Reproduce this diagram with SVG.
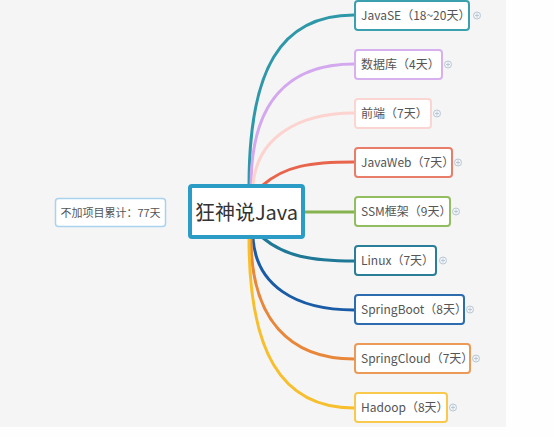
<svg xmlns="http://www.w3.org/2000/svg" width="554" height="437" viewBox="0 0 554 437">
<style>
.t{font-family:"Noto Sans CJK SC","Noto Sans",sans-serif;font-size:12px;fill:#555}
.n{fill:#fff;stroke-width:2}
.c{fill:none;stroke-width:3;stroke-linecap:round}
.p{fill:none;stroke:#b7c7d6;stroke-width:1}
</style>
<defs>
<g id="plus"><circle r="3.5" class="p"/><path d="M-2,0H2M0,-2V2" class="p"/></g>
</defs>
<rect x="0" y="0" width="554" height="437" fill="#fefefe"/>
<rect x="0" y="0" width="506" height="427" fill="#f5f5f5"/>
<g id="connectors">
<path class="c" stroke="#2f98a8" d="M249,186 C249,70 280,15 354,15"/>
<path class="c" stroke="#d4a8ee" d="M251,186 C251,100 290,64 354,64"/>
<path class="c" stroke="#fcd3cf" d="M253,186 C256,140 295,113 354,113"/>
<path class="c" stroke="#e8654d" d="M263,185 C285,166 310,162 354,162"/>
<path class="c" stroke="#86b34f" d="M303,212 L354,212"/>
<path class="c" stroke="#1e7896" d="M263,238 C285,256 310,261 354,261"/>
<path class="c" stroke="#1a5ba6" d="M253,238 C256,285 295,310 354,310"/>
<path class="c" stroke="#e8873a" d="M251,238 C251,320 290,359 354,359"/>
<path class="c" stroke="#f7bf2e" d="M249,238 C249,350 280,408 354,408"/>
</g>
<g id="center">
<rect x="190" y="186" width="113" height="51" rx="2" fill="#fff" stroke="#2b9cc6" stroke-width="4"/>
<text x="246.5" y="220" text-anchor="middle" class="t" style="font-size:20px;fill:#333">狂神说Java</text>
</g>
<g id="summary">
<rect x="55.5" y="198.5" width="110" height="28" rx="3" fill="#fff" stroke="#a9d2ef" stroke-width="1.5"/>
<text x="110.5" y="216.5" text-anchor="middle" class="t" style="font-size:11px">不加项目累计：77天</text>
</g>
<g id="javase">
<rect class="n" x="355" y="1" width="114" height="29" rx="3" stroke="#3aa0ad"/>
<text class="t" x="361" y="20">JavaSE（18~20天）</text>
<use href="#plus" x="477" y="15.5"/>
</g>
<g id="db">
<rect class="n" x="355" y="50" width="87" height="29" rx="3" stroke="#d7b0ee"/>
<text class="t" x="361" y="69">数据库（4天）</text>
<use href="#plus" x="448" y="64.5"/>
</g>
<g id="frontend">
<rect class="n" x="355" y="99" width="76" height="29" rx="3" stroke="#fbd5d1"/>
<text class="t" x="361" y="118">前端（7天）</text>
<use href="#plus" x="437" y="113.5"/>
</g>
<g id="javaweb">
<rect class="n" x="355" y="148" width="97" height="29" rx="3" stroke="#e87e6a"/>
<text class="t" x="361" y="167">JavaWeb（7天）</text>
<use href="#plus" x="458" y="162.5"/>
</g>
<g id="ssm">
<rect class="n" x="355" y="197" width="95" height="29" rx="3" stroke="#92bd60"/>
<text class="t" x="361" y="216">SSM框架（9天）</text>
<use href="#plus" x="456" y="211.5"/>
</g>
<g id="linux">
<rect class="n" x="355" y="246" width="81" height="29" rx="3" stroke="#2a7e98"/>
<text class="t" x="361" y="265">Linux（7天）</text>
<use href="#plus" x="443" y="260.5"/>
</g>
<g id="springboot">
<rect class="n" x="355" y="295" width="109" height="29" rx="3" stroke="#2e6cb0"/>
<text class="t" x="361" y="314">SpringBoot（8天）</text>
<use href="#plus" x="470" y="309.5"/>
</g>
<g id="springcloud">
<rect class="n" x="355" y="344" width="115" height="29" rx="3" stroke="#eb9a58"/>
<text class="t" x="361" y="363">SpringCloud（7天）</text>
<use href="#plus" x="476" y="358.5"/>
</g>
<g id="hadoop">
<rect class="n" x="355" y="393" width="92" height="29" rx="3" stroke="#f8c94c"/>
<text class="t" x="361" y="412">Hadoop（8天）</text>
<use href="#plus" x="453" y="407.5"/>
</g>
</svg>
